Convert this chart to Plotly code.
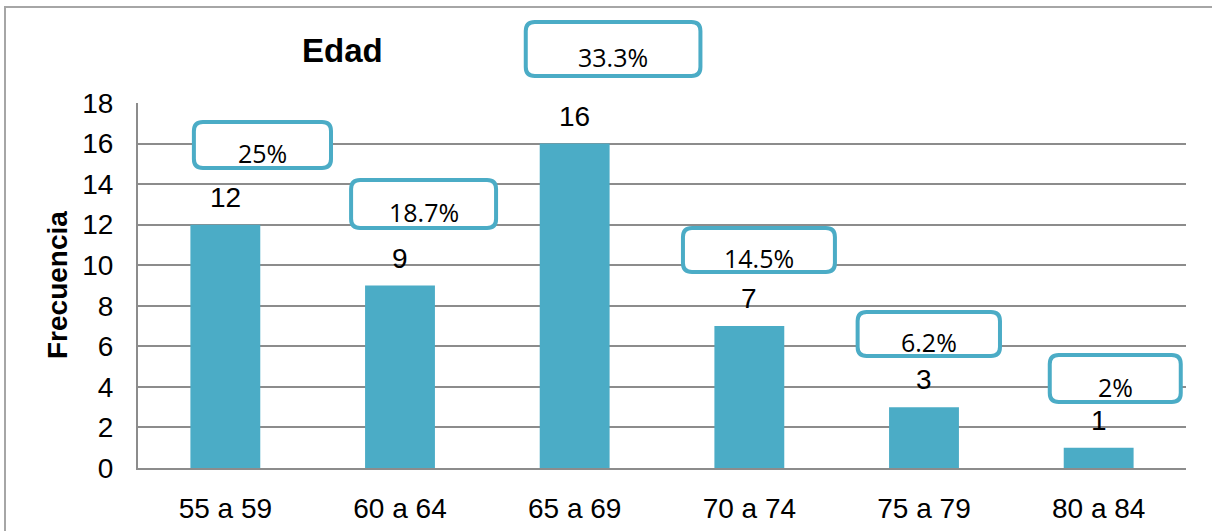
import plotly.graph_objects as go

categories = ["55 a 59", "60 a 64", "65 a 69", "70 a 74", "75 a 79", "80 a 84"]
frecuencia = [12, 9, 16, 7, 3, 1]
porcentajes = ["25%", "18.7%", "33.3%", "14.5%", "6.2%", "2%"]
y_ticks = [0, 2, 4, 6, 8, 10, 12, 14, 16, 18]

# callout box geometry (data units, x relative to bar centre)
box_x = [(-0.18, 0.605), (-0.28, 0.55), (-0.28, 0.72), (-0.38, 0.49), (-0.38, 0.435), (-0.28, 0.47)]
box_y = [(14.79, 17.06), (11.83, 14.2), (19.33, 21.99), (9.66, 11.83), (5.52, 7.69), (3.25, 5.57)]

BAR = "#4BACC6"
GRID = "#8c8c8c"
ARIAL = "Arial, Liberation Sans, sans-serif"

W, H = 1212, 531
ML, MR, MT, MB = 138, 26, 103, 63
PW, PH = W - ML - MR, H - MT - MB
XR = (-0.5, 5.5)
YR = (0, 18)

def xp(x):
    return (x - XR[0]) / (XR[1] - XR[0])

def yp(y):
    return (y - YR[0]) / (YR[1] - YR[0])

xs = list(range(len(categories)))

fig = go.Figure()
fig.add_trace(go.Bar(x=xs, y=frecuencia, marker=dict(color=BAR, line=dict(width=0)),
                     width=0.4, hoverinfo="skip"))

shapes = []
annotations = []

# outer chart border
shapes.append(dict(type="rect", xref="paper", yref="paper",
                   x0=(5 - ML) / PW, x1=(W + 20 - ML) / PW,
                   y0=-(MB + 20) / PH, y1=1 + (MT - 7) / PH,
                   line=dict(color="#a6a6a6", width=2), fillcolor="rgba(0,0,0,0)", layer="below"))

rx = 9 / PW
ry = 9 / PH
for i, (v, t) in enumerate(zip(frecuencia, porcentajes)):
    x0, x1 = xp(i + box_x[i][0]), xp(i + box_x[i][1])
    y0, y1 = yp(box_y[i][0]), yp(box_y[i][1])
    path = (f"M {x0+rx},{y0} L {x1-rx},{y0} Q {x1},{y0} {x1},{y0+ry} "
            f"L {x1},{y1-ry} Q {x1},{y1} {x1-rx},{y1} L {x0+rx},{y1} "
            f"Q {x0},{y1} {x0},{y1-ry} L {x0},{y0+ry} Q {x0},{y0} {x0+rx},{y0} Z")
    shapes.append(dict(type="path", xref="paper", yref="paper", path=path,
                       line=dict(color=BAR, width=4), fillcolor="white", layer="above"))
    annotations.append(dict(xref="paper", yref="paper", x=(x0 + x1) / 2, y=(y0 + y1) / 2,
                            xanchor="center", yanchor="middle",
                            text=t, showarrow=False, yshift=-8,
                            font=dict(family="Open Sans, sans-serif", size=25, color="black")))
    annotations.append(dict(xref="x", yref="y", x=i, y=v, text=str(v), showarrow=False,
                            xanchor="center", yanchor="bottom", yshift=10,
                            font=dict(family=ARIAL, size=28, color="black")))

annotations.append(dict(xref="paper", yref="paper", x=(342 - ML) / PW, y=(H - MB - 50) / PH,
                        xanchor="center", yanchor="middle",
                        text="<b>Edad</b>", showarrow=False,
                        font=dict(family=ARIAL, size=33, color="black")))
annotations.append(dict(xref="paper", yref="paper", x=(57 - ML) / PW, y=(H - MB - 285) / PH,
                        xanchor="center", yanchor="middle",
                        text="<b>Frecuencia</b>", showarrow=False, textangle=-90,
                        font=dict(family=ARIAL, size=28, color="black")))

fig.update_layout(
    width=W, height=H,
    margin=dict(l=ML, r=MR, t=MT, b=MB, pad=0, autoexpand=False),
    paper_bgcolor="white", plot_bgcolor="white",
    showlegend=False, bargap=0.6,
    shapes=shapes, annotations=annotations,
    xaxis=dict(range=list(XR), tickvals=xs, ticktext=categories, showgrid=False,
               showline=True, linecolor=GRID, linewidth=2, ticks="", zeroline=False,
               automargin=False,
               ticklabelstandoff=14, tickfont=dict(family=ARIAL, size=28, color="black"),
               fixedrange=True),
    yaxis=dict(range=list(YR), tickvals=y_ticks, showgrid=True, gridcolor=GRID, gridwidth=2,
               showline=True, linecolor=GRID, linewidth=2, ticks="", zeroline=False,
               automargin=False,
               ticklabelstandoff=17, tickfont=dict(family=ARIAL, size=28, color="black"),
               fixedrange=True),
)

fig.write_html("out.html")
